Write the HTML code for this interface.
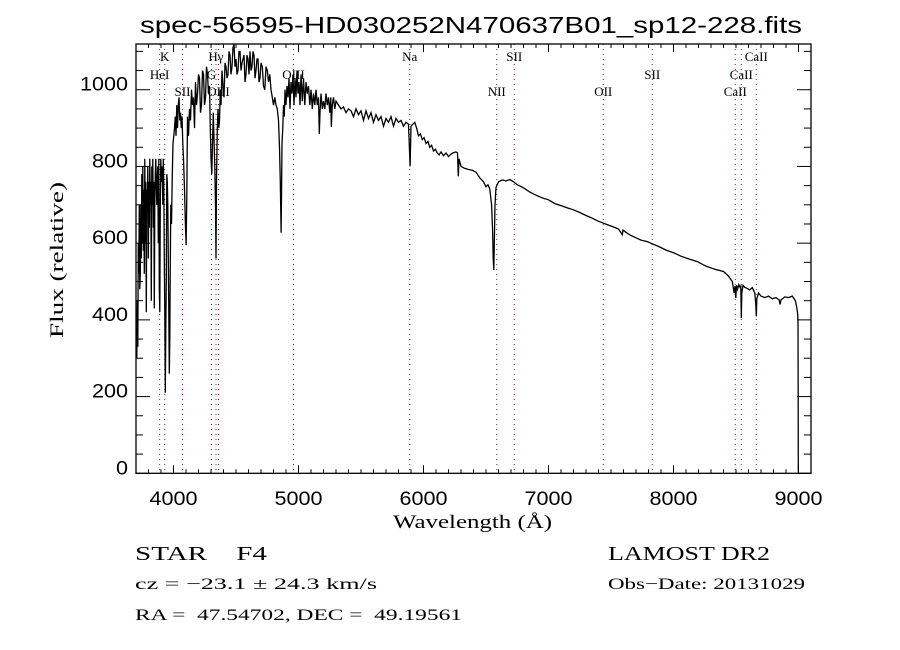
<!DOCTYPE html>
<html><head><meta charset="utf-8"><title>LAMOST spectrum</title>
<style>
html,body{margin:0;padding:0;background:#fff;}
svg{display:block;}
text{fill:#000;white-space:pre;}
.tk{font-family:"Liberation Sans",sans-serif;font-size:19px;font-weight:normal;}
.sf{font-family:"Liberation Serif",serif;}
.ln{font-family:"Liberation Serif",serif;font-size:13px;}
</style></head>
<body>
<svg id="chart" width="900" height="650" viewBox="0 0 900 650" xmlns="http://www.w3.org/2000/svg" xml:space="preserve">
<rect x="0" y="0" width="900" height="650" fill="#fff"/>
<text x="140" y="33" class="tk" style="font-size:23px" textLength="662" lengthAdjust="spacingAndGlyphs">spec-56595-HD030252N470637B01_sp12-228.fits</text>
<g id="lines"></g>
<g id="ticks"></g>
<g id="series"></g>
<rect x="136" y="44" width="675" height="429.3" fill="none" stroke="#000" stroke-width="1.3"/>
<text x="393" y="528" class="sf" style="font-size:19px" textLength="159" lengthAdjust="spacingAndGlyphs">Wavelength (Å)</text>
<text transform="translate(63,338) rotate(-90)" class="sf" style="font-size:19px" textLength="156" lengthAdjust="spacingAndGlyphs">Flux (relative)</text>
<text x="135" y="560" class="sf" style="font-size:20px" textLength="132" lengthAdjust="spacingAndGlyphs">STAR    F4</text>
<text x="608" y="560" class="sf" style="font-size:20px" textLength="162" lengthAdjust="spacingAndGlyphs">LAMOST DR2</text>
<text x="135" y="589" class="sf" style="font-size:16px" textLength="242" lengthAdjust="spacingAndGlyphs">cz = −23.1 ± 24.3 km/s</text>
<text x="608" y="589" class="sf" style="font-size:16px" textLength="197" lengthAdjust="spacingAndGlyphs">Obs−Date: 20131029</text>
<text x="135" y="620" class="sf" style="font-size:16px" textLength="327" lengthAdjust="spacingAndGlyphs">RA =  47.54702, DEC =  49.19561</text>
</svg>
<script>
const waves=[
3702,3706,3710,3714,3718,3722,3726,3730,3734,3738,
3742,3746,3750,3754,3758,3762,3766,3770,3774,3778,
3782,3786,3790,3794,3798,3802,3806,3810,3814,3818,
3822,3826,3830,3834,3838,3842,3846,3850,3854,3858,
3862,3866,3870,3874,3878,3882,3886,3890,3894,3898,
3902,3906,3910,3914,3918,3922,3926,3930,3934,3938,
3942,3946,3950,3954,3958,3962,3966,3970,3974,3978,
3984,3990,3996,4002,4008,4014,4020,4026,4032,4038,
4044,4050,4056,4062,4068,4074,4080,4088,4095,4101,
4106,4112,4120,4128,4136,4144,4152,4160,4168,4176,
4184,4192,4200,4208,4216,4224,4232,4240,4248,4256,
4264,4272,4280,4288,4294,4300,4306,4312,4318,4324,
4330,4336,4340,4344,4350,4356,4362,4368,4374,4380,
4388,4396,4404,4412,4420,4428,4436,4444,4452,4460,
4468,4476,4484,4492,4500,4508,4516,4524,4532,4540,
4548,4556,4564,4572,4580,4588,4596,4604,4612,4620,
4628,4636,4644,4652,4660,4668,4676,4684,4692,4700,
4710,4720,4730,4740,4750,4760,4770,4780,4790,4800,
4810,4820,4830,4840,4848,4854,4858,4861,4864,4868,
4874,4880,4886,4892,4900,4908,4916,4924,4932,4940,
4948,4956,4964,4972,4980,4988,4996,5004,5012,5020,
5030,5040,5050,5060,5070,5080,5090,5100,5110,5120,
5130,5140,5150,5160,5166,5172,5180,5190,5200,5210,
5220,5230,5240,5250,5258,5262,5270,5280,5290,5300,
5320,5340,5360,5380,5400,5420,5440,5460,5480,5500,
5520,5540,5560,5580,5600,5620,5640,5660,5680,5700,
5720,5740,5760,5780,5800,5820,5840,5860,5880,5893,
5900,5915,5930,5945,5960,5975,5990,6005,6020,6035,
6050,6065,6080,6095,6110,6125,6140,6160,6180,6200,
6220,6240,6260,6272,6278,6284,6300,6330,6360,6390,
6420,6450,6480,6500,6515,6530,6545,6552,6558,6562,
6566,6572,6580,6600,6630,6660,6690,6720,6750,6780,
6810,6850,6900,6950,7000,7050,7100,7150,7200,7250,
7300,7350,7400,7440,7480,7520,7560,7590,7596,7620,
7660,7700,7740,7790,7840,7890,7940,8000,8060,8120,
8190,8260,8330,8400,8440,8470,8485,8492,8498,8504,
8512,8522,8532,8538,8542,8546,8556,8570,8590,8610,
8630,8650,8658,8662,8666,8680,8700,8730,8760,8790,
8820,8845,8852,8860,8890,8920,8950,8975,8985,8992,
8996,8997,8998,9000];
const flux=[
380,300,450,330,600,520,700,480,520,700,
560,780,600,800,580,740,520,820,600,760,
420,740,700,800,560,760,640,820,700,760,
450,800,700,820,640,760,430,700,780,820,
760,700,760,800,600,820,480,420,700,820,
760,800,780,700,820,760,560,420,210,380,
500,780,760,700,560,420,260,350,550,700,
650,780,860,880,900,930,880,960,900,960,
980,920,940,900,930,860,820,740,650,595,
720,930,880,950,920,1000,960,980,900,1020,
960,990,1040,1030,940,960,1050,1040,960,980,
1060,1040,990,1010,900,820,780,860,940,870,
800,700,560,760,900,950,900,920,1000,960,
1050,1010,980,1070,1060,1030,1040,1100,1090,1040,
1060,1110,1120,1060,1080,1040,1050,1100,1100,1050,
1070,1080,1090,1020,1040,1090,1080,1040,1100,1050,
1060,1100,1090,1030,1050,1080,1080,1020,1030,1070,
1060,1010,1000,1060,1050,1020,1040,1000,980,960,
980,960,950,920,850,760,680,627,720,860,
900,960,930,1000,960,1010,980,1030,950,1020,
990,1040,960,1030,980,1050,990,1020,960,1040,
970,1030,960,1020,990,1010,960,1000,950,990,
960,1000,960,980,885,940,990,950,970,950,
990,960,980,940,980,903,960,980,950,970,
960,950,955,940,950,945,930,950,935,945,
920,945,925,940,915,935,920,930,905,925,
915,930,905,925,915,920,905,915,910,800,
905,910,915,900,880,885,870,875,860,865,
850,855,840,845,835,830,838,828,835,826,
832,836,838,835,774,820,800,795,792,790,
785,770,760,747,752,742,700,640,560,530,
600,700,745,760,765,762,766,760,752,748,
742,733,725,718,713,703,698,692,687,680,
672,665,657,652,647,642,637,622,634,628,
620,614,608,604,597,590,582,575,566,559,
552,540,532,526,514,500,470,488,457,490,
480,492,485,488,405,470,490,485,482,478,
484,470,440,409,455,470,462,458,462,455,
458,452,440,452,460,458,462,450,434,420,
400,300,8,0];
const lineWaves=[3889,3930,4072,4304,4340,4360,4960,5890,6586,6726,7438,7830,8494,8542,8662];
const lineLabels=["HeI","K","SII","G","Hγ","OIII","OIII","Na","NII","SII","OII","SII","CaII","CaII","CaII"];
const lineRows=[1,0,2,1,0,2,1,0,2,0,2,1,2,1,0];
const xTicks=[4000,5000,6000,7000,8000,9000];
const yTicks=[0,200,400,600,800,1000];

const X0=136,X1=811,Y0=473.3,Y1=44,WMIN=3700,WMAX=9100,FMIN=0,FMAX=1119.2;
function xs(w){return X0+(w-WMIN)/(WMAX-WMIN)*(X1-X0);}
function ys(f){return Y0-(f-FMIN)/(FMAX-FMIN)*(Y0-Y1);}
const NS='http://www.w3.org/2000/svg';
function mk(tag,attrs,parent){const e=document.createElementNS(NS,tag);for(const k in attrs)e.setAttribute(k,attrs[k]);parent.appendChild(e);return e;}

const gl=document.getElementById('lines');
const rowY=[61,79,96];
lineWaves.forEach((w,i)=>{
  const l=mk('line',{x1:xs(w),x2:xs(w),y1:Y1,y2:Y0,stroke:'#8b1a1a','stroke-width':1,'stroke-dasharray':'1 4'},gl);
  
  
  const t=mk('text',{x:xs(w),y:rowY[lineRows[i]],'text-anchor':'middle','class':'ln'},gl);
  
  
  t.textContent=lineLabels[i];
});

const gt=document.getElementById('ticks');
for(let w=3800;w<=9100;w+=100){
  const major=(w%1000===0);const len=major?8:4;const x=xs(w);
  const a=mk('line',{x1:x,x2:x,y1:Y0,y2:Y0-len,stroke:'#000','stroke-width':1},gt);
  
  
  const b=mk('line',{x1:x,x2:x,y1:Y1,y2:Y1+len,stroke:'#000','stroke-width':1},gt);
  
  
}
xTicks.forEach(v=>{
  const t=mk('text',{x:xs(v)-24,y:505,'class':'tk',textLength:48,lengthAdjust:'spacingAndGlyphs'},gt);
  
  
  t.textContent=v;
});
for(let f=0;f<=1100;f+=50){
  const major=(f%200===0);const len=major?14:7;const y=ys(f);
  const a=mk('line',{x1:X0,x2:X0+len,y1:y,y2:y,stroke:'#000','stroke-width':1},gt);
  
  
  const b=mk('line',{x1:X1,x2:X1-len,y1:y,y2:y,stroke:'#000','stroke-width':1},gt);
  
  
}
yTicks.forEach(v=>{
  const s=String(v);const w=s.length*12;
  const t=mk('text',{x:128-w,y:ys(v)+1,'class':'tk',textLength:w,lengthAdjust:'spacingAndGlyphs'},gt);
  
  
  t.textContent=s;
});

const gs=document.getElementById('series');
const n=Math.min(waves.length,flux.length);
const pts=[];
for(let i=0;i<n;i++){pts.push(xs(waves[i]).toFixed(1)+','+Math.max(Y1,ys(flux[i])).toFixed(1));}
const pl=mk('polyline',{points:pts.join(' '),fill:'none',stroke:'#000','stroke-width':1.3,'stroke-linejoin':'miter'},gs);


</script>
</body></html>
